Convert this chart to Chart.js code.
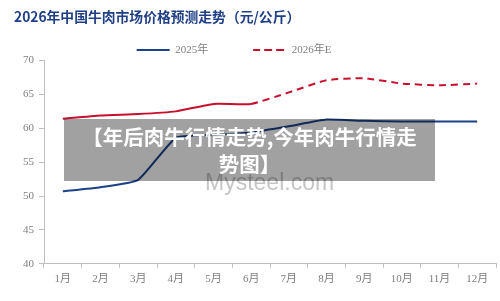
<!DOCTYPE html>
<html>
<head>
<meta charset="utf-8">
<script src="https://cdn.jsdelivr.net/npm/chart.js@4.4.1/dist/chart.umd.min.js"></script>
<style>
body { margin: 0; background: #fff; }
#wrap { position: relative; width: 500px; height: 301px; }
#mark { position: absolute; left: 205px; top: 169px; font: 23px 'Liberation Sans', sans-serif; color: rgba(150, 150, 150, 0.55); }
#banner { position: absolute; left: 64px; top: 119px; width: 371px; height: 62px; box-sizing: border-box; padding: 4px 0 0; background: rgba(0, 0, 0, 0.37); color: #fff; font: bold 20.5px/27px 'Noto Sans CJK SC', sans-serif; text-align: center; white-space: nowrap; }
</style>
</head>
<body>
<div id="wrap">
  <canvas id="price" width="500" height="301"></canvas>
  <div id="mark">Mysteel.com</div>
  <div id="banner">【年后肉牛行情走势,今年肉牛行情走<br>势图】</div>
</div>
<script>
var months = ['1月', '2月', '3月', '4月', '5月', '6月', '7月', '8月', '9月', '10月', '11月', '12月'];
var price2025 = [50.7, 51.3, 52.4, 58.6, 59.0, 59.4, 60.3, 61.3, 61.1, 61.0, 61.0, 61.0];
var price2026 = [61.4, 61.9, 62.1, 62.5, 63.6, 63.6, 65.3, 67.1, 67.4, 66.6, 66.35, 66.6];
var forecastFrom = 5; // dashed from 6月 on

var tickFont = { family: "'Liberation Serif', 'Noto Sans CJK SC', serif", size: 11 };
var gray = '#7f7f7f';
var axisGray = '#bfbfbf';

// push the legend up and spread its items like the original
var legendNudge = {
    id: 'legendNudge',
    afterInit: function (chart) {
        var legend = chart.legend;
        var fit = legend.fit;
        legend.fit = function () {
            fit.apply(this, arguments);
            this.height = 32;
        };
        var draw = legend.draw;
        legend.draw = function () {
            this.top -= 29; this.left -= 21; this.right -= 21;
            draw.apply(this, arguments);
            this.top += 29; this.left += 21; this.right += 21;
        };
    }
};

var ctx = document.getElementById('price').getContext('2d');
var myChart = new Chart(ctx, {
    type: 'line',
    data: {
        labels: months,
        datasets: [{
            label: '2025年',
            data: price2025,
            borderColor: '#1b4189',
            backgroundColor: '#1b4189',
            borderWidth: 2,
            pointRadius: 0,
            tension: 0.15
        }, {
            label: '2026年E',
            data: price2026,
            borderColor: '#c8102e',
            backgroundColor: '#c8102e',
            borderWidth: 2,
            borderDash: [7, 5],
            pointRadius: 0,
            tension: 0.15,
            segment: {
                borderDash: function (c) { return c.p0DataIndex < forecastFrom ? [] : undefined; }
            }
        }]
    },
    options: {
        responsive: false,
        animation: false,
        layout: { padding: { left: 14, right: 4, top: 0, bottom: 10 } },
        plugins: {
            title: {
                display: true,
                text: '2026年中国牛肉市场价格预测走势（元/公斤）',
                align: 'start',
                color: '#1f3f86',
                font: { family: "'Noto Sans CJK SC', sans-serif", size: 13.8, weight: 'bold' },
                padding: { top: 8, bottom: 4 }
            },
            legend: {
                labels: { boxWidth: 33, boxHeight: 0, padding: 45, color: gray, font: tickFont }
            },
            tooltip: { enabled: false }
        },
        scales: {
            x: {
                offset: true,
                grid: { offset: true, drawOnChartArea: false, color: axisGray, tickLength: 4 },
                border: { color: axisGray },
                ticks: { color: gray, font: tickFont, padding: 5, maxRotation: 0 }
            },
            y: {
                min: 40,
                max: 70,
                ticks: { stepSize: 5, color: gray, font: tickFont, padding: 5 },
                grid: { drawOnChartArea: false, color: axisGray, tickLength: 5 },
                border: { color: axisGray },
                afterFit: function (scale) { scale.width = 30; }
            }
        }
    },
    plugins: [legendNudge]
});
</script>
</body>
</html>
